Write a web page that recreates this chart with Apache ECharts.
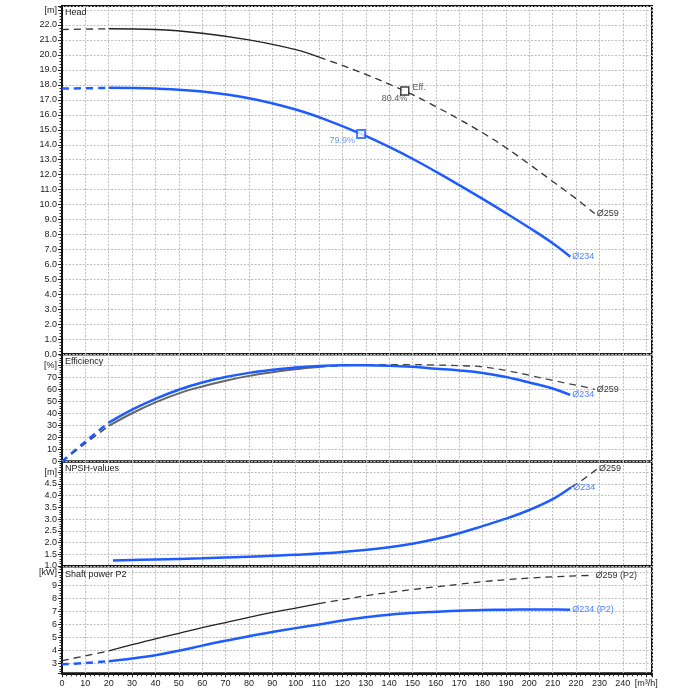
<!DOCTYPE html>
<html><head><meta charset="utf-8">
<script src="https://cdn.jsdelivr.net/npm/echarts@6/dist/echarts.min.js"></script>
<style>html,body{margin:0;padding:0;background:#fff}#c{width:700px;height:700px}</style>
</head><body><div id="c"></div>
<script>
// ---- data ----
const q259Head = [0, 20, 40, 60, 80, 100, 110, 120, 130, 140, 150, 160, 170, 180, 190, 200, 210, 220, 228];
const h259     = [21.7, 21.75, 21.7, 21.45, 21.0, 20.35, 19.85, 19.3, 18.7, 18.05, 17.35, 16.55, 15.7, 14.8, 13.8, 12.7, 11.55, 10.4, 9.4];
const q234Head = [0, 20, 40, 60, 80, 100, 115, 128, 140, 151, 160, 170, 180, 190, 200, 210, 217.5];
const h234     = [17.75, 17.8, 17.75, 17.55, 17.1, 16.35, 15.55, 14.72, 13.85, 12.98, 12.2, 11.3, 10.38, 9.43, 8.45, 7.42, 6.52];

const q259Eff = [0, 10, 20, 30, 40, 50, 60, 70, 80, 90, 100, 110, 120, 130, 140, 150, 160, 170, 180, 190, 200, 210, 220, 228];
const eff259  = [0, 15, 29.5, 40, 49, 56.5, 62.2, 67, 71, 74, 76.5, 78.3, 79.5, 80.2, 80.4, 80.4, 80, 79.5, 78.5, 75.5, 71.5, 67.2, 63.3, 59.9];
const q234Eff = [0, 10, 20, 30, 40, 50, 60, 70, 80, 90, 100, 110, 120, 130, 140, 150, 160, 170, 180, 190, 200, 210, 217.5];
const eff234  = [0, 16.5, 32.2, 43, 52, 59.5, 65.5, 70, 73.5, 76, 78, 79.2, 79.8, 79.9, 79.5, 78.5, 77, 75.5, 73.4, 70, 65.5, 60.5, 55.2];

const q234Npsh = [21.8, 40, 60, 80, 100, 120, 140, 150, 160, 170, 180, 190, 200, 210, 217.9];
const npsh234  = [1.23, 1.28, 1.33, 1.4, 1.48, 1.6, 1.8, 1.95, 2.15, 2.4, 2.7, 3.02, 3.39, 3.85, 4.36];
const q259Npsh = [200, 210, 217.9, 222, 229];
const npsh259  = [3.39, 3.85, 4.36, 4.62, 5.14];

const q259Pow = [0, 10, 20, 30, 40, 50, 60, 70, 80, 90, 100, 110, 120, 130, 140, 150, 160, 170, 180, 190, 200, 210, 220, 227.5];
const p259    = [3.23, 3.6, 3.98, 4.45, 4.9, 5.32, 5.75, 6.15, 6.55, 6.92, 7.26, 7.6, 7.9, 8.2, 8.45, 8.68, 8.88, 9.08, 9.28, 9.43, 9.55, 9.65, 9.72, 9.76];
const q234Pow = [0, 10, 20, 30, 40, 50, 60, 70, 80, 90, 100, 110, 120, 130, 140, 150, 160, 170, 180, 190, 200, 210, 217.5];
const p234    = [2.95, 3.05, 3.18, 3.4, 3.65, 3.98, 4.38, 4.75, 5.1, 5.42, 5.72, 6.0, 6.3, 6.55, 6.75, 6.88, 6.97, 7.05, 7.1, 7.13, 7.14, 7.14, 7.13];

const effPoint259 = [146.7, 17.59]; const effLabel259 = '80.4%';
const effPoint234 = [128, 14.72];   const effLabel234 = '79.9%';

const panelTitles = ['Head', 'Efficiency', 'NPSH-values', 'Shaft power P2'];
const unitLabels = ['[m]', '[%]', '[m]', '[kW]'];

// ---- helpers ----
function seg(xs, ys, a, b) { const r = []; xs.forEach((x, i) => { if (x >= a && x <= b) r.push([x, ys[i]]); }); return r; }

const BLUE = '#1f5cff', BLUE_T = '#4f80ff', BLK = '#222';
const FONT = 'Liberation Sans';
const grids = [
  { left: 62, right: 48, top: 6, height: 348.3 },
  { left: 62, right: 48, top: 354.3, height: 107.2 },
  { left: 62, right: 48, top: 461.5, height: 104.5 },
  { left: 62, right: 48, top: 566.5, height: 106.8 }
].map(g => Object.assign(g, { show: true, borderColor: '#111', borderWidth: 2, backgroundColor: 'transparent' }));

const gridLine = { show: true, lineStyle: { color: '#bdbdbd', width: 1, type: [2, 1.5] } };
const xAxes = grids.map((g, i) => ({
  type: 'value', gridIndex: i, min: 0, max: 252.5, interval: 10,
  axisLine: { show: i === 3, lineStyle: { color: '#111', width: 2 } },
  axisTick: { show: i === 3, length: 4, lineStyle: { color: '#222' } },
  minorTick: { show: i === 3, splitNumber: 5, length: 3, lineStyle: { color: '#222' } },
  axisLabel: { show: i === 3, fontFamily: FONT, fontSize: 9, color: '#222', margin: 6, showMaxLabel: false,
    formatter: v => v === 250 ? '[m³/h]' : String(v) },
  splitLine: gridLine
}));

function yAx(i, min, max, step, dec) {
  return {
    type: 'value', gridIndex: i, min: min, max: max, minInterval: step, maxInterval: step,
    axisLine: { show: true, lineStyle: { color: '#111', width: 2 } },
    axisTick: { show: true, length: 4, lineStyle: { color: '#222' } },
    minorTick: { show: true, splitNumber: 5, length: 2.5, lineStyle: { color: '#222' } },
    axisLabel: { fontFamily: FONT, fontSize: 9, color: '#222', margin: 5, showMinLabel: i !== 3, showMaxLabel: false,
      formatter: v => {
        const top = [23, 80, 5, 10][i];
        if (Math.abs(v - top) < 1e-6) return unitLabels[i];
        return v.toFixed(dec);
      } },
    splitLine: gridLine
  };
}
const yAxes = [yAx(0, 0, 23.27, 1, 1), yAx(1, 0, 88.9, 10, 0), yAx(2, 1, 5.46, 0.5, 1), yAx(3, 2.26, 10.44, 1, 0)];

function line(idx, data, color, width, dashed, endLabel, z) {
  const s = { type: 'line', xAxisIndex: idx, yAxisIndex: idx, data: data, smooth: 0.4, showSymbol: false, symbol: 'none',
    lineStyle: { color: color, width: width, type: dashed ? [7, 5] : 'solid' }, z: z || 2, silent: true, animation: false };
  if (endLabel) s.endLabel = { show: true, formatter: endLabel, fontFamily: FONT, fontSize: 9, distance: 2,
    color: color === BLUE ? BLUE_T : '#333' };
  return s;
}

const series = [
  // Head
  line(0, seg(q259Head, h259, 0, 20), '#333', 1.3, true),
  line(0, seg(q259Head, h259, 20, 110), BLK, 1.3, false),
  line(0, seg(q259Head, h259, 110, 230), '#333', 1.3, true, 'Ø259'),
  line(0, seg(q234Head, h234, 0, 20), BLUE, 2.5, true, null, 3),
  line(0, seg(q234Head, h234, 20, 230), BLUE, 2.5, false, 'Ø234', 3),
  { type: 'scatter', xAxisIndex: 0, yAxisIndex: 0, data: [effPoint259], symbol: 'rect', symbolSize: 8, z: 5,
    itemStyle: { color: '#fff', borderColor: '#111', borderWidth: 1.5 }, animation: false, silent: true,
    label: { show: true, position: 'right', formatter: 'Eff.', offset: [-2, -4], fontFamily: FONT, fontSize: 9, color: '#333' } },
  { type: 'scatter', xAxisIndex: 0, yAxisIndex: 0, data: [effPoint259], symbol: 'circle', symbolSize: 1, z: 4, animation: false, silent: true,
    itemStyle: { color: 'rgba(0,0,0,0)' },
    label: { show: true, position: 'left', formatter: effLabel259, offset: [8, 7], fontFamily: FONT, fontSize: 9, color: '#333' } },
  { type: 'scatter', xAxisIndex: 0, yAxisIndex: 0, data: [effPoint234], symbol: 'rect', symbolSize: 8, z: 5,
    itemStyle: { color: '#fff', borderColor: BLUE, borderWidth: 2 }, animation: false, silent: true,
    label: { show: true, position: 'left', formatter: effLabel234, offset: [4, 7], fontFamily: FONT, fontSize: 9, color: BLUE_T } },
  // Efficiency
  line(1, seg(q259Eff, eff259, 0, 20), '#444', 1.5, true),
  line(1, seg(q259Eff, eff259, 20, 110), '#666', 2, false),
  line(1, seg(q259Eff, eff259, 110, 230), '#444', 1.3, true, 'Ø259'),
  line(1, seg(q234Eff, eff234, 0, 20), BLUE, 2.5, true, null, 3),
  line(1, seg(q234Eff, eff234, 20, 230), BLUE, 2.5, false, 'Ø234', 3),
  // NPSH
  line(2, seg(q259Npsh, npsh259, 0, 230), '#333', 1.3, true, 'Ø259'),
  line(2, seg(q234Npsh, npsh234, 0, 230), BLUE, 2.5, false, 'Ø234', 3),
  // Power
  line(3, seg(q259Pow, p259, 0, 20), '#333', 1.3, true),
  line(3, seg(q259Pow, p259, 20, 110), BLK, 1.3, false),
  line(3, seg(q259Pow, p259, 110, 230), '#333', 1.3, true, 'Ø259 (P2)'),
  line(3, seg(q234Pow, p234, 0, 20), BLUE, 2.5, true, null, 3),
  line(3, seg(q234Pow, p234, 20, 230), BLUE, 2.5, false, 'Ø234 (P2)', 3)
];

const titleTops = [8, 357, 464, 570];
const chart = echarts.init(document.getElementById('c'), null, { renderer: 'canvas' });
chart.setOption({
  animation: false,
  backgroundColor: '#fff',
  grid: grids, xAxis: xAxes, yAxis: yAxes, series: series,
  graphic: panelTitles.map((t, i) => ({ type: 'text', left: 65, top: titleTops[i], z: 10,
    style: { text: t, font: '9px "Liberation Sans"', fill: '#222' } }))
});
</script></body></html>
